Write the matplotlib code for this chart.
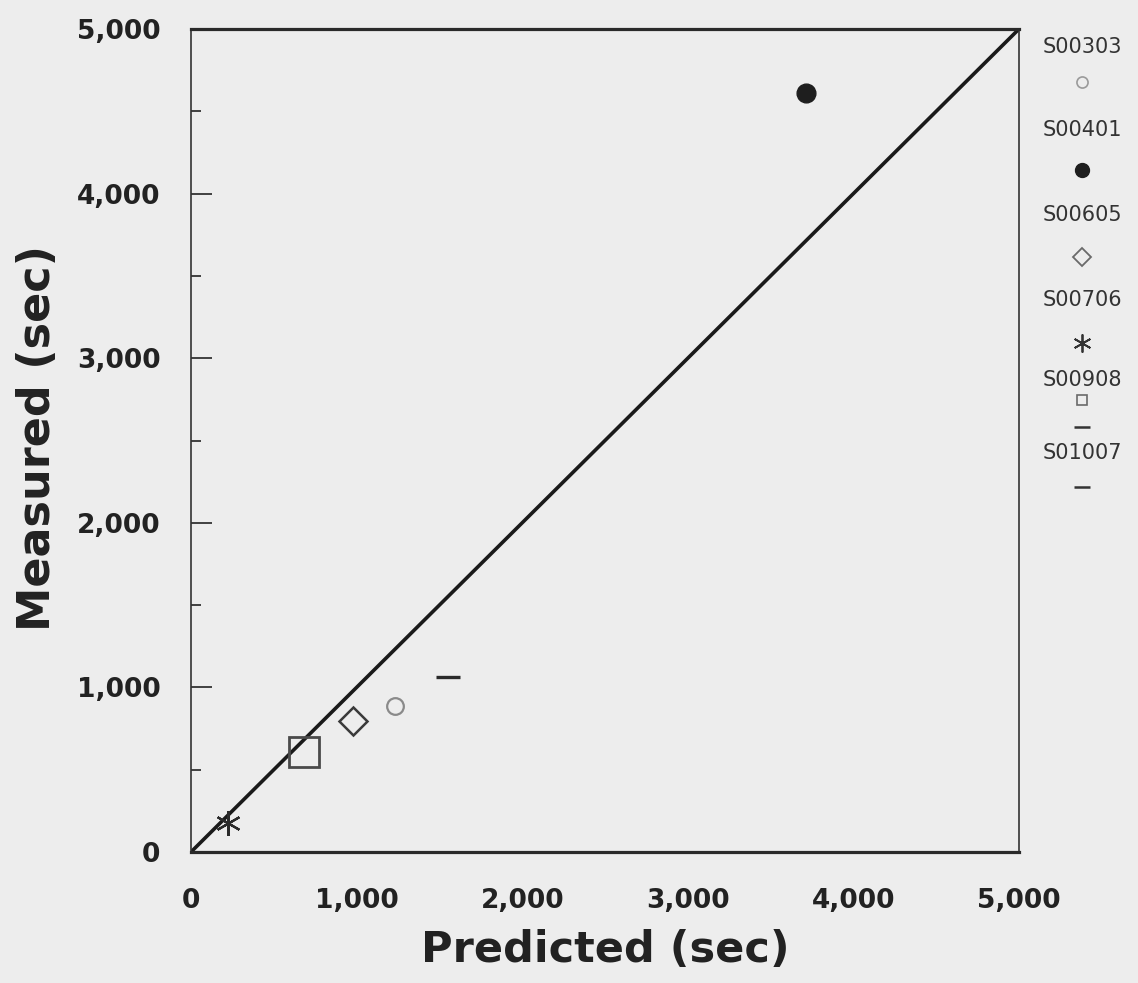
import matplotlib
matplotlib.use("Agg")
import matplotlib.pyplot as plt
from matplotlib.ticker import FuncFormatter, MultipleLocator


# test runs: predicted vs measured times (seconds)
tests = ["S00303", "S00401", "S00605", "S00706", "S00908", "S01007"]
predicted = [1232, 3714, 978, 223, 682, 1552]
measured = [887, 4611, 796, 176, 608, 1063]

x_ticks = [0, 1000, 2000, 3000, 4000, 5000]
y_ticks = [0, 1000, 2000, 3000, 4000, 5000]

BG = "#ededed"

# marker look for each test (marker, size, face, edge, edge width)
styles = {
    "S00303": dict(marker="o", ms=12, mfc="none", mec="#8a8a8a", mew=1.6),
    "S00401": dict(marker="o", ms=13.5, mfc="#1e1e1e", mec="#1e1e1e", mew=1.0),
    "S00605": dict(marker="D", ms=14, mfc="none", mec="#3a3a3a", mew=1.8),
    "S00706": dict(marker=(6, 2, 0), ms=18, mfc="none", mec="#2a2a2a", mew=1.6),
    "S00908": dict(marker="s", ms=21, mfc="none", mec="#4a4a4a", mew=2.0),
    "S01007": dict(marker="_", ms=17, mfc="none", mec="#2a2a2a", mew=2.4),
}

fig = plt.figure(figsize=(11.38, 9.83), dpi=100, facecolor=BG)
ax = fig.add_axes([191 / 1138, 131 / 983, 828 / 1138, 823 / 983])
ax.set_facecolor(BG)

# one-to-one reference line
ax.plot([0, 5000], [0, 5000], color="#1a1a1a", linewidth=2.6, zorder=2)

for name, px, my in zip(tests, predicted, measured):
    ax.plot([px], [my], linestyle="none", zorder=3, **styles[name])

ax.set_xlim(0, 5000)
ax.set_ylim(0, 5000)
ax.set_xticks(x_ticks)
ax.set_yticks(y_ticks)
ax.yaxis.set_minor_locator(MultipleLocator(500))
fmt = FuncFormatter(lambda v, pos: f"{int(v):,}")
ax.xaxis.set_major_formatter(fmt)
ax.yaxis.set_major_formatter(fmt)

ax.tick_params(axis="x", which="both", length=0, pad=26)
ax.tick_params(axis="y", which="major", direction="in", length=15,
               width=1.3, pad=22, color="#333333")
ax.tick_params(axis="y", which="minor", direction="in", length=7,
               width=1.3, color="#333333")
for lab in ax.get_xticklabels() + ax.get_yticklabels():
    lab.set_fontfamily("DejaVu Sans")
    lab.set_fontweight("bold")
    lab.set_fontsize(19)
    lab.set_color("#222222")

for side in ("top", "bottom"):
    ax.spines[side].set_linewidth(2.3)
    ax.spines[side].set_color("#2a2a2a")
for side in ("left", "right"):
    ax.spines[side].set_linewidth(1.2)
    ax.spines[side].set_color("#333333")

fig.text(605 / 1138, 1 - 950 / 983, "Predicted (sec)", ha="center",
         va="center", fontsize=31, fontweight="bold", family="DejaVu Sans",
         color="#222222")
fig.text(38 / 1138, 1 - 438 / 983, "Measured (sec)", ha="center",
         va="center", rotation=90, fontsize=32, fontweight="bold",
         family="DejaVu Sans", color="#222222")

# key down the right-hand margin: name above its marker
label_y = [47, 130, 215, 300, 380, 453]
symbol_y = [82, 170, 257, 343, 400, 487]
key_styles = {
    "S00303": dict(marker="o", ms=8, mfc="none", mec="#9a9a9a", mew=1.2),
    "S00401": dict(marker="o", ms=10, mfc="#1e1e1e", mec="#1e1e1e", mew=1.0),
    "S00605": dict(marker="D", ms=9, mfc="none", mec="#6a6a6a", mew=1.3),
    "S00706": dict(marker=(6, 2, 0), ms=13, mfc="none", mec="#333333", mew=1.3),
    "S00908": dict(marker="s", ms=7, mfc="none", mec="#6a6a6a", mew=1.2),
    "S01007": dict(marker="_", ms=11, mfc="none", mec="#333333", mew=1.8),
}
key_x = 1082 / 1138
for name, ly, sy in zip(tests, label_y, symbol_y):
    fig.text(key_x, 1 - ly / 983, name, ha="center", va="center",
             fontsize=15, family="DejaVu Sans", color="#333333")
    ax.plot([key_x], [1 - sy / 983], transform=fig.transFigure,
            clip_on=False, linestyle="none", **key_styles[name])
# second stroke under the S00908 key marker
ax.plot([key_x], [1 - 427 / 983], transform=fig.transFigure, clip_on=False,
        linestyle="none", marker="_", ms=11, mec="#333333", mew=1.8)

fig.savefig("out.png", dpi=100, facecolor=BG)
plt.close(fig)
